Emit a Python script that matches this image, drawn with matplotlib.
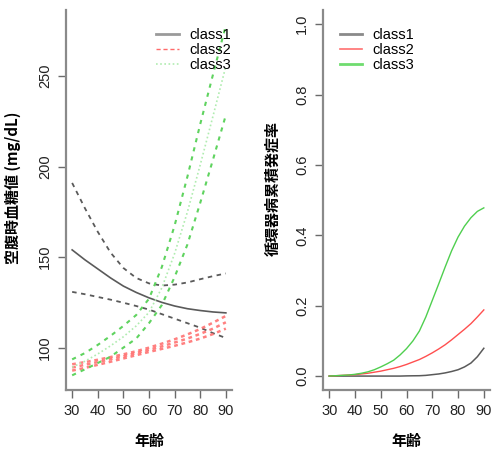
import matplotlib.pyplot as plt
import numpy as np

plt.rcParams['font.family'] = ['Liberation Sans', 'Noto Sans CJK JP']

# ages at which values were read
age = [30, 35, 40, 45, 50, 55, 60, 65, 70, 75, 80, 85, 90]

# fasting glucose trajectories (mean, upper, lower)
c1_mean = [154, 148.5, 143.5, 138.5, 134, 130.5, 127.5, 125, 123, 121.5, 120.5, 119.7, 119.2]
c1_up = [191, 177, 164, 152.5, 144, 138.5, 135.5, 134.3, 134.8, 136, 137.8, 139.5, 141]
c1_lo = [130.8, 129.5, 128, 126.5, 124.8, 123, 121, 118.5, 116, 113.5, 111, 108, 105.3]

c2_mean = [89, 90.5, 92, 93.6, 95.2, 97, 98.8, 100.7, 102.8, 105, 107.6, 110.5, 114]
c2_up = [90.8, 92, 93.3, 94.8, 96.3, 98, 100, 102.2, 104.6, 107.3, 110.3, 113.8, 117.5]
c2_lo = [87.3, 88.8, 90.5, 92.2, 94, 95.8, 97.6, 99.3, 101, 102.9, 105, 107.5, 110.5]

c3_mean = [89.2, 92.5, 96.5, 101, 106, 112, 119.5, 133, 152, 175, 201, 228, 255.5]
c3_up = [93.5, 97, 101.5, 106.5, 112, 118, 127, 144.5, 167.5, 194.5, 223.5, 251, 278]
c3_lo = [84.7, 88, 91.5, 95, 100, 105, 113.5, 123.5, 139, 157, 180, 204, 228.5]

# cumulative incidence of cardiovascular disease (read every 2.5 years)
age_inc = [30, 32.5, 35, 37.5, 40, 42.5, 45, 47.5, 50, 52.5, 55, 57.5, 60,
           62.5, 65, 67.5, 70, 72.5, 75, 77.5, 80, 82.5, 85, 87.5, 90]
inc1 = [0, 0, 0, 0, 0, 0, 0, 0, 0, 0, 0, 0, 0.0005,
        0.0008, 0.001, 0.002, 0.004, 0.006, 0.009, 0.013, 0.018, 0.026, 0.037, 0.055, 0.079]
inc2 = [0, 0.001, 0.002, 0.003, 0.004, 0.006, 0.008, 0.011, 0.014, 0.018, 0.022, 0.027, 0.033,
        0.04, 0.047, 0.056, 0.066, 0.077, 0.089, 0.103, 0.118, 0.133, 0.149, 0.168, 0.188]
inc3 = [0, 0.001, 0.002, 0.003, 0.005, 0.008, 0.012, 0.018, 0.026, 0.035, 0.045, 0.06, 0.078,
        0.1, 0.128, 0.168, 0.215, 0.262, 0.31, 0.356, 0.395, 0.426, 0.45, 0.468, 0.478]

classes = ['class1', 'class2', 'class3']

gray = '#5a5a5a'
red = '#ff6a6a'
green = '#5fd35f'
lgreen = '#b0ecb0'
cjk = ['Noto Sans CJK JP']

fig = plt.figure(figsize=(5, 4.59), dpi=100)
ax1 = fig.add_axes([0.132, 0.150, 0.332, 0.828])
ax2 = fig.add_axes([0.646, 0.150, 0.334, 0.828])


def r_style(ax):
    for s in ['top', 'right']:
        ax.spines[s].set_visible(False)
    for s in ['left', 'bottom']:
        ax.spines[s].set_color('#8a8a8a')
        ax.spines[s].set_linewidth(1.6)
    ax.tick_params(direction='out', length=6, width=1, color='#6a6a6a',
                   labelsize=10.5, labelcolor='#222222', pad=4)
    ax.set_xticks([30, 40, 50, 60, 70, 80, 90])
    ax.set_xlim(27.6, 92.4)
    for lab in ax.get_yticklabels():
        lab.set_rotation(90)
        lab.set_va('center')
    ax.set_xlabel('年齢', fontsize=10.8, fontweight='bold', family=cjk)
    ax.xaxis.set_label_coords(0.5, -0.113)


# left: fasting glucose
ax1.plot(age, c1_mean, color=gray, lw=1.2)
ax1.plot(age, c1_up, color=gray, lw=1.3, ls=(0, (2.5, 2.5)))
ax1.plot(age, c1_lo, color=gray, lw=1.3, ls=(0, (2.5, 2.5)))
for y in [c2_mean, c2_up, c2_lo]:
    ax1.plot(age, y, color=red, lw=1.8, ls=(0, (1.5, 1.5)), alpha=0.85)
ax1.plot(age, c3_mean, color=lgreen, lw=1.2, ls=(0, (1, 1.5)))
ax1.plot(age, c3_up, color=green, lw=1.5, ls=(0, (2, 2.5)))
ax1.plot(age, c3_lo, color=green, lw=1.5, ls=(0, (2, 2.5)))

ax1.set_ylim(76.5, 286.5)
ax1.set_yticks([100, 150, 200, 250])
r_style(ax1)
ax1.set_ylabel('空腹時血糖値 (mg/dL)', fontsize=10.8, fontweight='bold', family=cjk)
ax1.yaxis.set_label_coords(-0.27, 0.533)

h1 = [plt.Line2D([], [], color='#9a9a9a', lw=2),
      plt.Line2D([], [], color=red, lw=1, ls=(0, (3, 2))),
      plt.Line2D([], [], color=lgreen, lw=1.2, ls=(0, (1, 1.5)))]
ax1.legend(h1, classes, loc='upper left', bbox_to_anchor=(0.48, 0.979), frameon=False,
           fontsize=10.5, handlelength=1.6, handletextpad=0.7, labelspacing=0.05,
           borderaxespad=0.3)

# right: cumulative incidence
ax2.plot(age_inc, inc1, color=gray, lw=1.1)
ax2.plot(age_inc, inc2, color='#ff4f4f', lw=1.0)
ax2.plot(age_inc, inc3, color='#4fcf4f', lw=1.0)
ax2.set_ylim(-0.04, 1.04)
ax2.set_yticks([0.0, 0.2, 0.4, 0.6, 0.8, 1.0])
ax2.set_yticklabels(['0.0', '0.2', '0.4', '0.6', '0.8', '1.0'])
r_style(ax2)
ax2.set_ylabel('循環器病累積発症率', fontsize=10.8, fontweight='bold', family=cjk)
ax2.yaxis.set_label_coords(-0.257, 0.53)

h2 = [plt.Line2D([], [], color='#8a8a8a', lw=2),
      plt.Line2D([], [], color='#ff6f6f', lw=1.2),
      plt.Line2D([], [], color='#6fdc6f', lw=2)]
ax2.legend(h2, classes, loc='upper left', bbox_to_anchor=(0.04, 0.979), frameon=False,
           fontsize=10.5, handlelength=1.5, handletextpad=0.75, labelspacing=0.05,
           borderaxespad=0.3)

fig.savefig('out.png', dpi=100)
